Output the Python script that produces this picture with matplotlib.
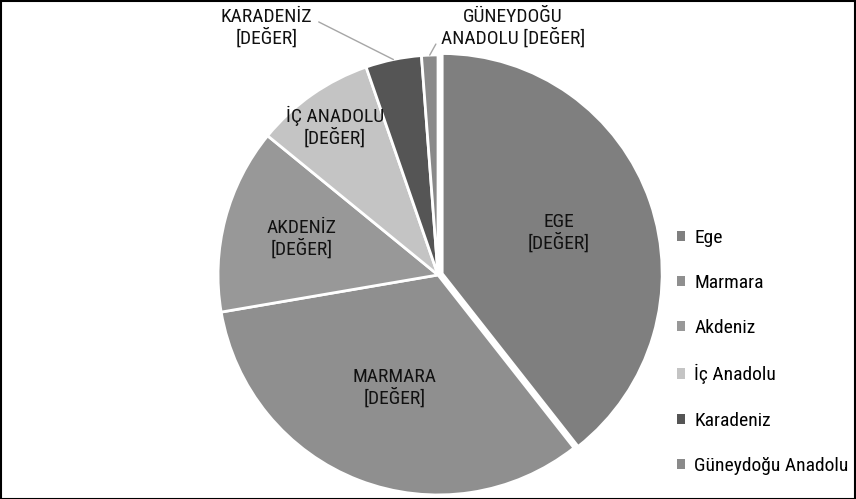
import numpy as np
import matplotlib.pyplot as plt
from matplotlib.patches import Patch, Rectangle

# region shares (percent)
regions = ["Ege", "Marmara", "Akdeniz", "İç Anadolu", "Karadeniz", "Güneydoğu Anadolu"]
shares = [39.4, 32.9, 13.6, 8.8, 4.1, 1.2]
inner_labels = ["EGE\n[DEĞER]", "MARMARA\n[DEĞER]", "AKDENİZ\n[DEĞER]",
                "İÇ ANADOLU\n[DEĞER]", "KARADENİZ\n[DEĞER]", "GÜNEYDOĞU\nANADOLU [DEĞER]"]
colors = ["#7f7f7f", "#8f8f8f", "#989898", "#c4c4c4", "#555555", "#8a8a8a"]
explode = [0.02, 0, 0, 0, 0, 0]

plt.rcParams['font.family'] = ['Roboto Condensed', 'Liberation Sans Narrow', 'Lato', 'DejaVu Sans']

fig = plt.figure(figsize=(8.56, 4.99), dpi=100)
ax = fig.add_axes([0.2547, 0.008, 0.514, 0.882])

wedges, _ = ax.pie(shares, colors=colors, startangle=90, counterclock=False,
                   explode=explode, radius=1.0,
                   wedgeprops=dict(edgecolor="white", linewidth=2.0))
ax.set_xlim(-1, 1)
ax.set_ylim(-1, 1)
ax.set_aspect("equal")
ax.axis("off")
for w in wedges:
    w.set_clip_on(False)

# label radius for the inside labels
label_r = [0.56, 0.55, 0.64, 0.82]
for i in range(4):
    w = wedges[i]
    th = np.deg2rad((w.theta1 + w.theta2) / 2)
    cx, cy = w.center
    ax.text(cx + label_r[i] * np.cos(th), cy + label_r[i] * np.sin(th), inner_labels[i],
            ha="center", va="center", fontsize=14, color="#111111", linespacing=1.1)

# outside labels with leader lines
outside = {4: (-0.78, 1.125), 5: (0.34, 1.125)}
for i, (tx, ty) in outside.items():
    w = wedges[i]
    th = np.deg2rad((w.theta1 + w.theta2) / 2)
    px, py = 1.0 * np.cos(th), 1.0 * np.sin(th)
    ax.annotate(inner_labels[i], xy=(px, py), xytext=(tx, ty),
                ha="center", va="center", fontsize=14, color="#111111",
                linespacing=1.1, annotation_clip=False,
                arrowprops=dict(arrowstyle="-", color="#a6a6a6", lw=1.0,
                                shrinkA=3, shrinkB=0,
                                relpos=(1.0, 0.72) if i == 4 else (0.0, 0.3)))

handles = [Patch(facecolor=c, edgecolor="none") for c in colors]
fig.legend(handles, regions, loc="center left", bbox_to_anchor=(0.77, 0.295),
           frameon=False, fontsize=14, labelspacing=1.4,
           handlelength=0.45, handleheight=0.45, handletextpad=0.45)

fig.patches.append(Rectangle((0.001, 0.001), 0.998, 0.997, transform=fig.transFigure,
                             fill=False, edgecolor="black", linewidth=1.5))

fig.savefig("out.png", dpi=100)
